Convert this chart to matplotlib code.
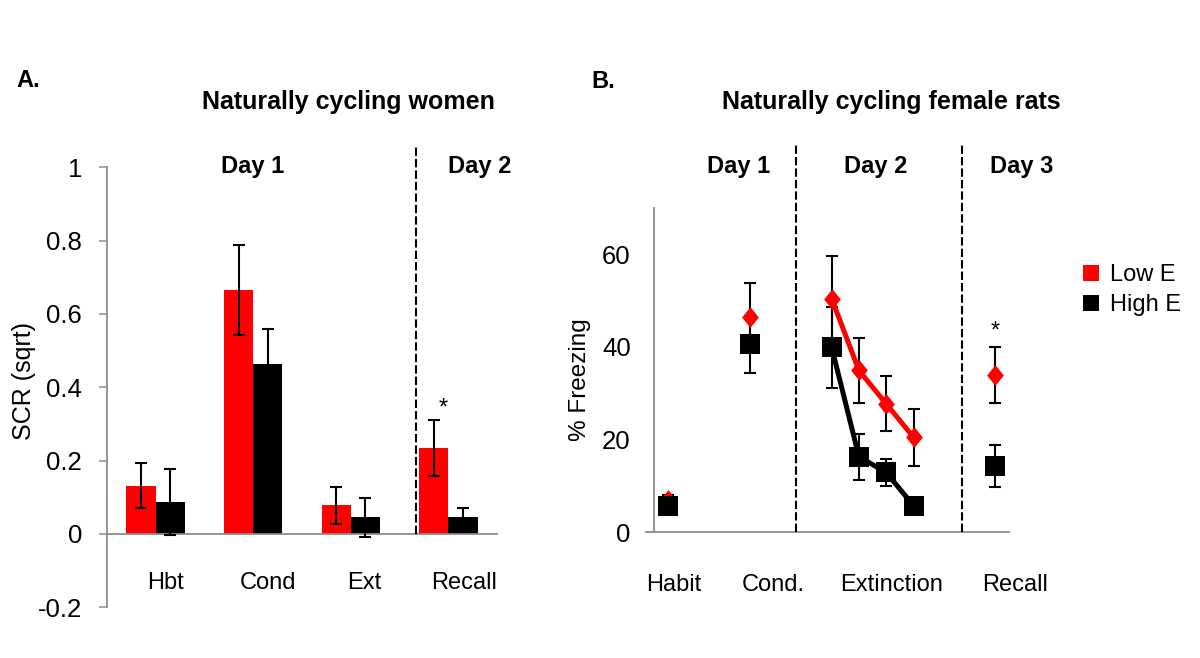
import matplotlib
matplotlib.use('Agg')
import matplotlib.pyplot as plt
import numpy as np
from matplotlib.lines import Line2D
from matplotlib.path import Path

plt.rcParams['font.family'] = ['Liberation Sans', 'DejaVu Sans']

# ---------------- data: panel A (women, SCR) ----------------
a_categories = ['Hbt', 'Cond', 'Ext', 'Recall']
a_low_e = [0.132, 0.665, 0.078, 0.235]
a_low_e_err = [0.061, 0.122, 0.051, 0.076]
a_high_e = [0.088, 0.464, 0.045, 0.045]
a_high_e_err = [0.090, 0.094, 0.052, 0.027]
a_yticks = [-0.2, 0, 0.2, 0.4, 0.6, 0.8, 1]
a_ytick_labels = ['-0.2', '0', '0.2', '0.4', '0.6', '0.8', '1']
a_days = ['Day 1', 'Day 2']

# ---------------- data: panel B (rats, % freezing) ----------------
b_categories = ['Habit', 'Cond.', 'Extinction', 'Recall']
b_x = [0, 3, 6, 7, 8, 9, 12]
b_low_e = [7.0, 46.5, 50.4, 34.9, 27.7, 20.5, 33.9]
b_low_e_err = [1.0, 7.3, 9.2, 7.1, 5.9, 6.1, 6.0]
b_high_e = [5.75, 40.5, 39.9, 16.3, 12.9, 5.75, 14.3]
b_high_e_err = [1.0, 6.2, 8.7, 5.0, 3.0, 1.0, 4.5]
b_yticks = [0, 20, 40, 60]
b_days = ['Day 1', 'Day 2', 'Day 3']
legend_labels = ['Low E', 'High E']

RED = '#FF0000'
BLACK = '#000000'
GRAY = '#8C8C8C'
FS = 17
FS_TICK = 18.5

fig = plt.figure(figsize=(12, 6.58), dpi=100)
W, H = 1200.0, 658.0

def fx(px):
    return px / W

def fy(py):
    return 1 - py / H

# ================= Panel A =================
axA = fig.add_axes([fx(106.7), fy(607.3), fx(497.3) - fx(106.7), fy(167.3) - fy(607.3)])
xa = np.arange(len(a_categories))
bw = 0.3
axA.bar(xa - bw / 2, a_low_e, width=bw, color=RED, zorder=2)
axA.bar(xa + bw / 2, a_high_e, width=bw, color=BLACK, zorder=2)
axA.errorbar(xa - bw / 2, a_low_e, yerr=a_low_e_err, fmt='none', ecolor=BLACK,
             elinewidth=1.5, capsize=4, capthick=1.5, zorder=3)
axA.errorbar(xa + bw / 2, a_high_e, yerr=a_high_e_err, fmt='none', ecolor=BLACK,
             elinewidth=1.5, capsize=4, capthick=1.5, zorder=3)
axA.set_xlim(-0.5, len(a_categories) - 0.5)
axA.set_ylim(-0.2, 1)
axA.set_yticks(a_yticks)
axA.set_yticklabels(a_ytick_labels)
axA.set_xticks([])
for s in ['top', 'right']:
    axA.spines[s].set_visible(False)
axA.spines['bottom'].set_position(('data', 0))
for s in ['left', 'bottom']:
    axA.spines[s].set_color(GRAY)
    axA.spines[s].set_linewidth(1.3)
axA.tick_params(axis='y', length=5.8, width=1.1, color=GRAY, pad=12, labelsize=FS_TICK)
axA.patch.set_visible(False)

# category labels
a_label_x = [0.10, 1.15, 2.135, 3.16]
for lx, lab in zip(a_label_x, a_categories):
    axA.text(lx, -0.15, lab, ha='center', va='baseline', fontsize=FS)

# dashed separator
axA.plot([2.667, 2.667], [0, 1.061], ls=(0, (4, 1.5)), color=BLACK, lw=1.5,
         clip_on=False, zorder=4)
# significance
axA.text(2.95, 0.325, '*', ha='center', va='baseline', fontsize=FS)

# ================= Panel B =================
axB = fig.add_axes([fx(654.3), fy(532.3), fx(1009) - fx(654.3), fy(207.7) - fy(532.3)])
diamond = Path([(0, 1), (0.8, 0), (0, -1), (-0.8, 0), (0, 1)],
               [Path.MOVETO, Path.LINETO, Path.LINETO, Path.LINETO, Path.CLOSEPOLY])
axB.errorbar(b_x, b_low_e, yerr=b_low_e_err, fmt='none', ecolor=BLACK,
             elinewidth=1.5, capsize=4, capthick=1.5, zorder=2)
axB.errorbar(b_x, b_high_e, yerr=b_high_e_err, fmt='none', ecolor=BLACK,
             elinewidth=1.5, capsize=4, capthick=1.5, zorder=2)
axB.plot(b_x[2:6], b_low_e[2:6], color=RED, lw=3.6, zorder=3, solid_capstyle='round')
axB.plot(b_x[2:6], b_high_e[2:6], color=BLACK, lw=3.6, zorder=3, solid_capstyle='round')
axB.plot(b_x, b_low_e, ls='none', marker=diamond, ms=15, color=RED, mew=0, zorder=4)
axB.plot(b_x, b_high_e, ls='none', marker='s', ms=14.4, color=BLACK, mew=0, zorder=5)
axB.set_xlim(-0.5, 12.5)
axB.set_ylim(0, 70)
axB.set_yticks(b_yticks)
axB.set_xticks([])
for s in ['top', 'right']:
    axB.spines[s].set_visible(False)
for s in ['left', 'bottom']:
    axB.spines[s].set_color(GRAY)
    axB.spines[s].set_linewidth(1.3)
axB.tick_params(axis='y', length=0, pad=17, labelsize=FS_TICK)
axB.plot([-0.0226, 0], [0, 0], transform=axB.transAxes, color=GRAY, lw=1.3, clip_on=False)
axB.patch.set_visible(False)

b_label_x = [0.23, 3.86, 8.18, 12.74]
for lx, lab in zip(b_label_x, b_categories):
    axB.text(lx, -12.6, lab, ha='center', va='baseline', fontsize=FS)

for dx in [4.68, 10.79]:
    axB.plot([dx, dx], [0, 83.5], ls=(0, (4, 1.5)), color=BLACK, lw=1.5,
             clip_on=False, zorder=6)
axB.text(12.0, 42.1, '*', ha='center', va='baseline', fontsize=FS)

# ================= texts =================
fig.text(fx(16.7), fy(86.7), 'A.', fontsize=FS, fontweight='bold', ha='left', va='baseline')
fig.text(fx(591.7), fy(88.3), 'B.', fontsize=FS, fontweight='bold', ha='left', va='baseline')
fig.text(fx(348), fy(109.3), 'Naturally cycling women', fontsize=18, fontweight='bold',
         ha='center', va='baseline')
fig.text(fx(891), fy(109.3), 'Naturally cycling female rats', fontsize=18, fontweight='bold',
         ha='center', va='baseline')
for cx, d in zip([252.5, 479.8], a_days):
    fig.text(fx(cx), fy(172.5), d, fontsize=FS, fontweight='bold', ha='center', va='baseline')
for cx, d in zip([738.7, 875.5, 1022], b_days):
    fig.text(fx(cx), fy(172.5), d, fontsize=FS, fontweight='bold', ha='center', va='baseline')
fig.text(fx(24), fy(381.5), 'SCR (sqrt)', rotation=90, fontsize=18, ha='center', va='center')
fig.text(fx(580), fy(380), '% Freezing', rotation=90, fontsize=17.5, ha='center', va='center')

handles = [Line2D([], [], ls='none', marker='s', ms=11, color=RED, mew=0),
           Line2D([], [], ls='none', marker='s', ms=11, color=BLACK, mew=0)]
fig.legend(handles, legend_labels, loc='upper left', bbox_to_anchor=(fx(1082), fy(264)),
           frameon=False, fontsize=FS, handlelength=0.8, handletextpad=0.4,
           labelspacing=0.33, borderpad=0, borderaxespad=0)

fig.savefig('out.png', dpi=100)
